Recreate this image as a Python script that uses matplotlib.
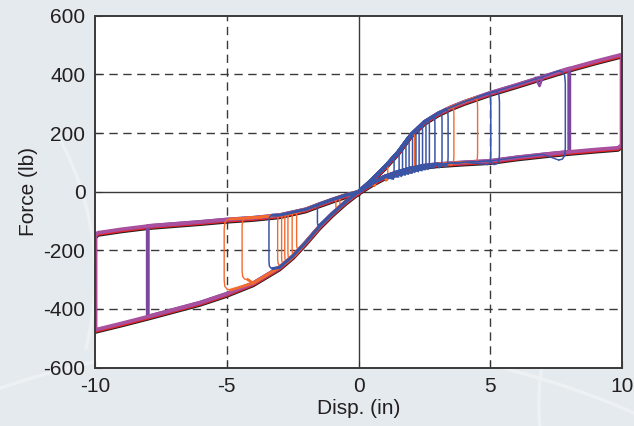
import numpy as np
import matplotlib
matplotlib.use("Agg")
import matplotlib.pyplot as plt
import matplotlib.transforms as mtransforms
from matplotlib.patches import Arc

plt.rcParams['font.family'] = ['Liberation Sans', 'DejaVu Sans']
plt.rcParams['axes.unicode_minus'] = False

# Outer envelope (disp in, force lb)
pos_load_x = [0, 0.5, 1, 1.5, 2, 2.5, 3, 3.5, 4, 5, 6, 7, 8, 9, 10]
pos_load_y = [0, 40, 85, 135, 195, 238, 266, 288, 306, 337, 364, 392, 420, 445, 468]
pos_unload_x = [10, 9.85, 9, 8, 7, 6, 5, 4, 3, 2.5, 2, 1.5, 1, 0.5, 0]
pos_unload_y = [160, 150, 144, 136, 127, 117, 105, 100, 94, 89, 80, 68, 52, 28, 0]
neg_load_x = [0, -0.5, -1, -1.5, -2, -2.5, -3, -3.5, -4, -5, -6, -7, -8, -9, -10]
neg_load_y = [0, -35, -75, -120, -172, -220, -258, -285, -312, -348, -378, -402, -426, -449, -471]
neg_unload_x = [-10, -9.9, -9, -8, -7, -6, -5, -4, -3, -2, -1.5, -1, -0.5, 0]
neg_unload_y = [-150, -140, -128, -117, -110, -103, -95, -89, -80, -60, -43, -27, -12, 0]

# inner loops: reversal displacement, force at top, force at bottom, loop width
blue_d = [1.30, 1.49, 1.62, 1.75, 1.87, 2.00, 2.13, 2.25, 2.38, 2.50, 2.63, 2.82, 3.07, 3.30, 4.90, 5.15, 7.60,
          -3.25, -1.48]
blue_top = [115, 134, 150, 167, 183, 197, 208, 218, 228, 238, 245, 256, 270, 280, 336, 342, 412,
            -80, -42]
blue_bot = [46, 53, 56, 60, 63, 66, 70, 72, 75, 78, 80, 83, 86, 90, 93, 93, 108,
            -262, -115]
blue_w = [0.05, 0.05, 0.05, 0.05, 0.05, 0.05, 0.05, 0.05, 0.05, 0.06, 0.06, 0.08, 0.1, 0.1, 0.12, 0.2, 0.25,
          0.15, 0.08]
orange_d = [0.6, 1.05, 2.05, 3.52, 4.40,
            -4.85, -4.20, -2.95, -2.82, -2.70, -2.58, -2.42, -2.25, -0.80, -0.65]
orange_top = [50, 90, 200, 290, 320,
              -93, -88, -80, -78, -76, -74, -70, -67, -20, -15]
orange_bot = [22, 40, 68, 94, 100,
              -335, -300, -252, -246, -238, -230, -217, -197, -55, -45]
orange_w = [0.05, 0.06, 0.08, 0.1, 0.12,
            0.25, 0.22, 0.12, 0.1, 0.1, 0.1, 0.1, 0.1, 0.06, 0.06]
dip_x = [6.72, 6.87, 7.0]
dip_y = [388, 360, 392]

x_ticks = [-10, -5, 0, 5, 10]
y_ticks = [-600, -400, -200, 0, 200, 400, 600]

# rounded reversal stroke: fraction of loop width across, fraction of loop height up
rev_u = [0, 0.55, 0.9, 1, 1, 0.9, 0.55, 0]
rev_v = [1, 0.99, 0.95, 0.86, 0.14, 0.05, 0.01, 0]

fig = plt.figure(figsize=(6.34, 4.26), dpi=100, facecolor='#e5eaee')

# faint background swooshes, kept behind the chart
bg = fig.add_axes([0, 0, 1, 1], zorder=-1)
bg.set_xlim(0, 1)
bg.set_ylim(0, 1)
bg.axis('off')
for c, w, h, t1, t2 in [((0.45, -1.6), 2.6, 3.6, 60, 110), ((1.35, 0.05), 1.0, 1.3, 140, 200),
                        ((-0.5, 0.35), 1.3, 1.6, -15, 30)]:
    bg.add_patch(Arc(c, w, h, theta1=t1, theta2=t2, color='#edf1f4', lw=2.5))

ax = fig.add_axes([0.150, 0.137, 0.831, 0.826])
ax.set_facecolor('white')
ax.set_xlim(-10, 10)
ax.set_ylim(-600, 600)
ax.set_xticks(x_ticks)
ax.set_yticks(y_ticks)
ax.tick_params(direction='in', length=5, width=0.8, color='#333333', labelsize=15,
               labelcolor='#231f20', pad=7)
for s in ax.spines.values():
    s.set_color('#3a3a3a')
    s.set_linewidth(1.4)
    s.set_zorder(10)
for v in [-5, 5]:
    ax.axvline(v, color='#3a3a3a', lw=1.0, dashes=(6, 4), zorder=1)
for v in [-400, -200, 200, 400]:
    ax.axhline(v, color='#3a3a3a', lw=1.0, dashes=(6, 4), zorder=1)
ax.axvline(0, color='#3a3a3a', lw=1.0, zorder=1)
ax.axhline(0, color='#3a3a3a', lw=1.0, zorder=1)
ax.set_xlabel('Disp. (in)', fontsize=15, color='#231f20', labelpad=2)
ax.set_ylabel('Force (lb)', fontsize=15, color='#231f20', labelpad=4)


def outer_loop(dmax):
    xs, ys = [], []
    xs += [x for x in pos_load_x if x <= dmax]
    ys += [y for x, y in zip(pos_load_x, pos_load_y) if x <= dmax]
    xs += [x for x in pos_unload_x if x <= dmax]
    ys += [y for x, y in zip(pos_unload_x, pos_unload_y) if x <= dmax]
    xs += [x for x in neg_load_x if x >= -dmax]
    ys += [y for x, y in zip(neg_load_x, neg_load_y) if x >= -dmax]
    xs += [x for x in neg_unload_x if x >= -dmax]
    ys += [y for x, y in zip(neg_unload_x, neg_unload_y) if x >= -dmax]
    return xs, ys


def inner_loop(d, top, bot, w):
    """Return (envelope up to reversal, reversal stroke, envelope back to zero)"""
    h = top - bot
    if d > 0:
        ux = [x for x in pos_load_x if x < d] + [d]
        uy = [y for x, y in zip(pos_load_x, pos_load_y) if x < d] + [top]
        vx = [d + w * u for u in rev_u]
        vy = [bot + h * v for v in rev_v]
        rx = [d] + [x for x in pos_unload_x if x < d]
        ry = [bot] + [y for x, y in zip(pos_unload_x, pos_unload_y) if x < d]
    else:
        ux = [x for x in neg_load_x if x > d] + [d]
        uy = [y for x, y in zip(neg_load_x, neg_load_y) if x > d] + [bot]
        vx = [d - w * u for u in rev_u]
        vy = [top - h * v for v in rev_v]
        rx = [d] + [x for x in neg_unload_x if x > d]
        ry = [top] + [y for x, y in zip(neg_unload_x, neg_unload_y) if x > d]
    return (ux, uy), (vx, vy), (rx, ry)


down1 = ax.transData + mtransforms.ScaledTranslation(0, -2.0 / 100, fig.dpi_scale_trans)
down2 = ax.transData + mtransforms.ScaledTranslation(0, -1.0 / 100, fig.dpi_scale_trans)

x10, y10 = outer_loop(10)
x8, y8 = outer_loop(8)
ax.plot(x10, y10, color='#231f20', lw=3.0, transform=down1, zorder=2)
ax.plot(x10, y10, color='#e8232a', lw=3.0, transform=down2, zorder=2)
ax.plot(x8, y8, color='#7b479f', lw=2.8, zorder=3)
ax.plot(x10, y10, color='#a9509e', lw=2.6, zorder=3)
ax.plot(dip_x, dip_y, color='#8a4aa0', lw=1.8, zorder=3)

for d, t, b, w in zip(orange_d, orange_top, orange_bot, orange_w):
    up, rev, back = inner_loop(d, t, b, w)
    ax.plot(*up, color='#f26a2e', lw=2.0, zorder=4)
    ax.plot(*back, color='#f26a2e', lw=2.0, zorder=4)
    ax.plot(*rev, color='#f26a2e', lw=1.0, zorder=4)

for d, t, b, w in zip(blue_d, blue_top, blue_bot, blue_w):
    up, rev, back = inner_loop(d, t, b, w)
    ax.plot(*up, color='#3a55a5', lw=2.2 if abs(d) < 4 else 1.0, zorder=5)
    ax.plot(*back, color='#3a55a5', lw=2.2 if abs(d) < 4 else 1.0, zorder=5)
    ax.plot(*rev, color='#3a55a5', lw=1.1, zorder=5)

plt.savefig('out.png', dpi=100, facecolor=fig.get_facecolor())
